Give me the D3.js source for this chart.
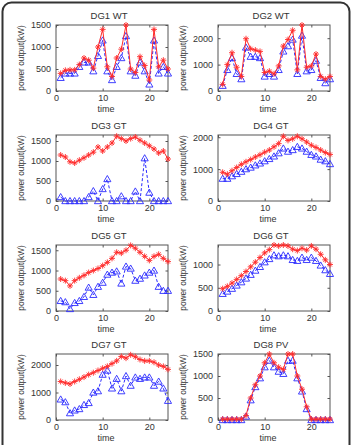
<!DOCTYPE html>
<html>
<head>
<meta charset="utf-8">
<script src="https://cdn.jsdelivr.net/npm/d3@7"></script>
<style>
  html, body { margin: 0; padding: 0; background: #ffffff; }
  svg { display: block; }
  text { font-family: "Liberation Sans", Arial, Helvetica, sans-serif; fill: #333; }
</style>
</head>
<body>
<svg id="chart" width="353" height="445"></svg>
<script>
// ---------------- data ----------------
const hours = [1,2,3,4,5,6,7,8,9,10,11,12,13,14,15,16,17,18,19,20,21,22,23,24];
const titles = ["DG1 WT","DG2 WT","DG3 GT","DG4 GT","DG5 GT","DG6 GT","DG7 GT","DG8 PV"];
const yMaxes = [1500, 2500, 1650, 2070, 1630, 1420, 2400, 1500];
const yTickSets = [
  [0,500,1000,1500],
  [0,1000,2000],
  [0,500,1000,1500],
  [0,1000,2000],
  [0,500,1000,1500],
  [0,500,1000],
  [0,1000,2000],
  [0,500,1000,1500]
];
const xTicks = [0,10,20];

const dg1Red  = [400,470,480,480,600,750,700,520,1000,1400,550,330,750,950,1500,500,420,780,580,250,1400,550,700,500];
const dg1Blue = [300,400,400,400,550,650,650,450,800,1150,450,250,550,750,1250,450,350,650,450,150,1150,400,550,400];
const dg2Red  = [250,1000,1450,900,550,1980,1600,1550,1500,700,750,650,950,1700,1950,2300,800,2500,900,950,1400,550,450,550];
const dg2Blue = [200,800,1250,650,450,1650,1300,1300,1250,550,650,550,800,1500,1700,1950,650,2100,750,800,1150,500,300,450];
const dg3Red  = [1150,1100,980,950,1020,1080,1150,1220,1350,1250,1350,1450,1620,1560,1500,1560,1600,1520,1450,1380,1300,1200,1250,1050];
const dg3Blue = [100,0,0,0,0,0,100,250,0,300,550,0,0,120,0,0,240,0,1070,210,0,0,0,0];
const dg4Red  = [900,840,950,1050,1150,1230,1300,1380,1450,1530,1600,1700,1800,2030,1900,1950,2030,1950,1850,1750,1680,1600,1520,1460];
const dg4Blue = [700,700,780,850,920,1000,1050,1120,1180,1250,1320,1400,1500,1650,1550,1600,1700,1650,1550,1450,1400,1300,1250,1160];
const dg5Red  = [790,750,620,750,820,880,950,1000,1050,1120,1200,1300,1450,1430,1500,1620,1550,1450,1350,1250,1350,1400,1300,1220];
const dg5Blue = [250,220,50,200,250,350,580,400,600,700,900,950,980,680,1100,1050,750,800,880,950,1000,600,500,500];
const dg6Red  = [480,530,600,680,760,850,950,1050,1150,1250,1320,1420,1400,1420,1400,1330,1300,1350,1310,1400,1330,1220,1100,1000];
const dg6Blue = [370,420,480,550,620,700,780,870,950,1050,1120,1200,1180,1200,1180,1100,1080,1150,1100,1150,1080,980,880,800];
const dg7Red  = [1400,1350,1310,1400,1480,1560,1650,1720,1800,1880,1950,2050,2150,2310,2250,2370,2300,2200,2150,2150,2100,2000,1950,1840];
const dg7Blue = [750,650,250,350,400,550,620,1000,1050,1650,1800,1150,1500,1050,1600,1250,1550,1500,1550,1550,1250,1400,1150,700];
const dg8Red  = [20,20,20,20,20,100,500,800,1000,1300,1500,1300,1200,1150,1500,1500,1000,700,300,20,20,20,20,20];
const dg8Blue = [0,0,0,0,0,80,450,750,950,1200,1350,1200,1100,1050,1350,1350,950,650,250,0,0,0,0,0];

const redSeries  = [dg1Red, dg2Red, dg3Red, dg4Red, dg5Red, dg6Red, dg7Red, dg8Red];
const blueSeries = [dg1Blue, dg2Blue, dg3Blue, dg4Blue, dg5Blue, dg6Blue, dg7Blue, dg8Blue];

// ---------------- layout ----------------
const svg = d3.select("#chart");
svg.append("rect").attr("width",353).attr("height",445).attr("fill","#fff");
svg.append("rect")
  .attr("x",2.5).attr("y",2.5).attr("width",347).attr("height",460)
  .attr("rx",9).attr("ry",9)
  .attr("fill","none").attr("stroke","#333").attr("stroke-width",2);

const colLeft = [56, 218];
const rowTop = [25, 135, 245, 354];
const boxW = 112, boxH = 66;
const red = "#ff2a2a", blue = "#2a2aff";
const fmt = d3.format("d");

titles.forEach((title, i) => {
  const col = i % 2, row = Math.floor(i / 2);
  const x0 = colLeft[col], y0 = rowTop[row];
  const g = svg.append("g").attr("transform", `translate(${x0},${y0})`);

  const x = d3.scaleLinear().domain([0, 24]).range([0, boxW]);
  const y = d3.scaleLinear().domain([0, yMaxes[i]]).range([boxH, 0]);

  const clipId = "clip" + i;
  g.append("clipPath").attr("id", clipId).append("rect")
    .attr("x", -4).attr("y", -4).attr("width", boxW + 8).attr("height", boxH + 8);

  const axB = d3.axisBottom(x).tickValues(xTicks).tickFormat(fmt).tickSizeInner(-2.5).tickSizeOuter(0).tickPadding(4);
  const axL = d3.axisLeft(y).tickValues(yTickSets[i]).tickFormat(fmt).tickSizeInner(-2.5).tickSizeOuter(0).tickPadding(5);
  const gx = g.append("g").attr("transform", `translate(0,${boxH})`).call(axB);
  const gy = g.append("g").call(axL);
  [gx, gy].forEach(a => {
    a.select(".domain").remove();
    a.selectAll(".tick line").attr("stroke", "#555");
    a.selectAll(".tick text").attr("font-size", 9).attr("fill", "#333")
      .style("font-family", '"Liberation Sans", Arial, sans-serif');
  });
  g.append("g").call(d3.axisTop(x).tickValues(xTicks).tickSizeInner(-2.5).tickSizeOuter(0).tickFormat(""))
    .call(a => { a.select(".domain").remove(); a.selectAll(".tick line").attr("stroke","#555"); });
  g.append("g").attr("transform", `translate(${boxW},0)`)
    .call(d3.axisRight(y).tickValues(yTickSets[i]).tickSizeInner(-2.5).tickSizeOuter(0).tickFormat(""))
    .call(a => { a.select(".domain").remove(); a.selectAll(".tick line").attr("stroke","#555"); });

  g.append("rect").attr("width", boxW).attr("height", boxH)
    .attr("fill", "none").attr("stroke", "#555").attr("stroke-width", 1);

  const plot = g.append("g").attr("clip-path", `url(#${clipId})`);
  const line = d3.line().x((d, k) => x(hours[k])).y(d => y(d));

  const bData = blueSeries[i];
  plot.append("path").datum(bData).attr("d", line)
    .attr("fill", "none").attr("stroke", blue).attr("stroke-width", 1).attr("stroke-dasharray", "3,2");
  const tri = d3.symbol().type(d3.symbolTriangle).size(22);
  plot.selectAll(".tri").data(bData).enter().append("path")
    .attr("d", tri)
    .attr("transform", (d, k) => `translate(${x(hours[k])},${y(d) + 0.6})`)
    .attr("fill", "none").attr("stroke", blue).attr("stroke-width", 0.9);

  const rData = redSeries[i];
  plot.append("path").datum(rData).attr("d", line)
    .attr("fill", "none").attr("stroke", red).attr("stroke-width", 1);
  const star = "M-3,0L3,0M0,-3L0,3M-2,-2L2,2M-2,2L2,-2";
  plot.selectAll(".star").data(rData).enter().append("path")
    .attr("d", star)
    .attr("transform", (d, k) => `translate(${x(hours[k])},${y(d)})`)
    .attr("fill", "none").attr("stroke", red).attr("stroke-width", 0.9);

  g.append("text").attr("x", boxW / 2 - 3).attr("y", -6).attr("text-anchor", "middle")
    .attr("font-size", 9.5).text(title);
  g.append("text").attr("x", boxW / 2 - 6).attr("y", boxH + 20.5).attr("text-anchor", "middle")
    .attr("font-size", 9).text("time");
  g.append("text").attr("transform", `translate(${-35},${boxH / 2}) rotate(-90)`)
    .attr("text-anchor", "middle").attr("dy", "0.35em").attr("font-size", 8.3)
    .text("power output(kW)");
});
</script>
</body>
</html>
